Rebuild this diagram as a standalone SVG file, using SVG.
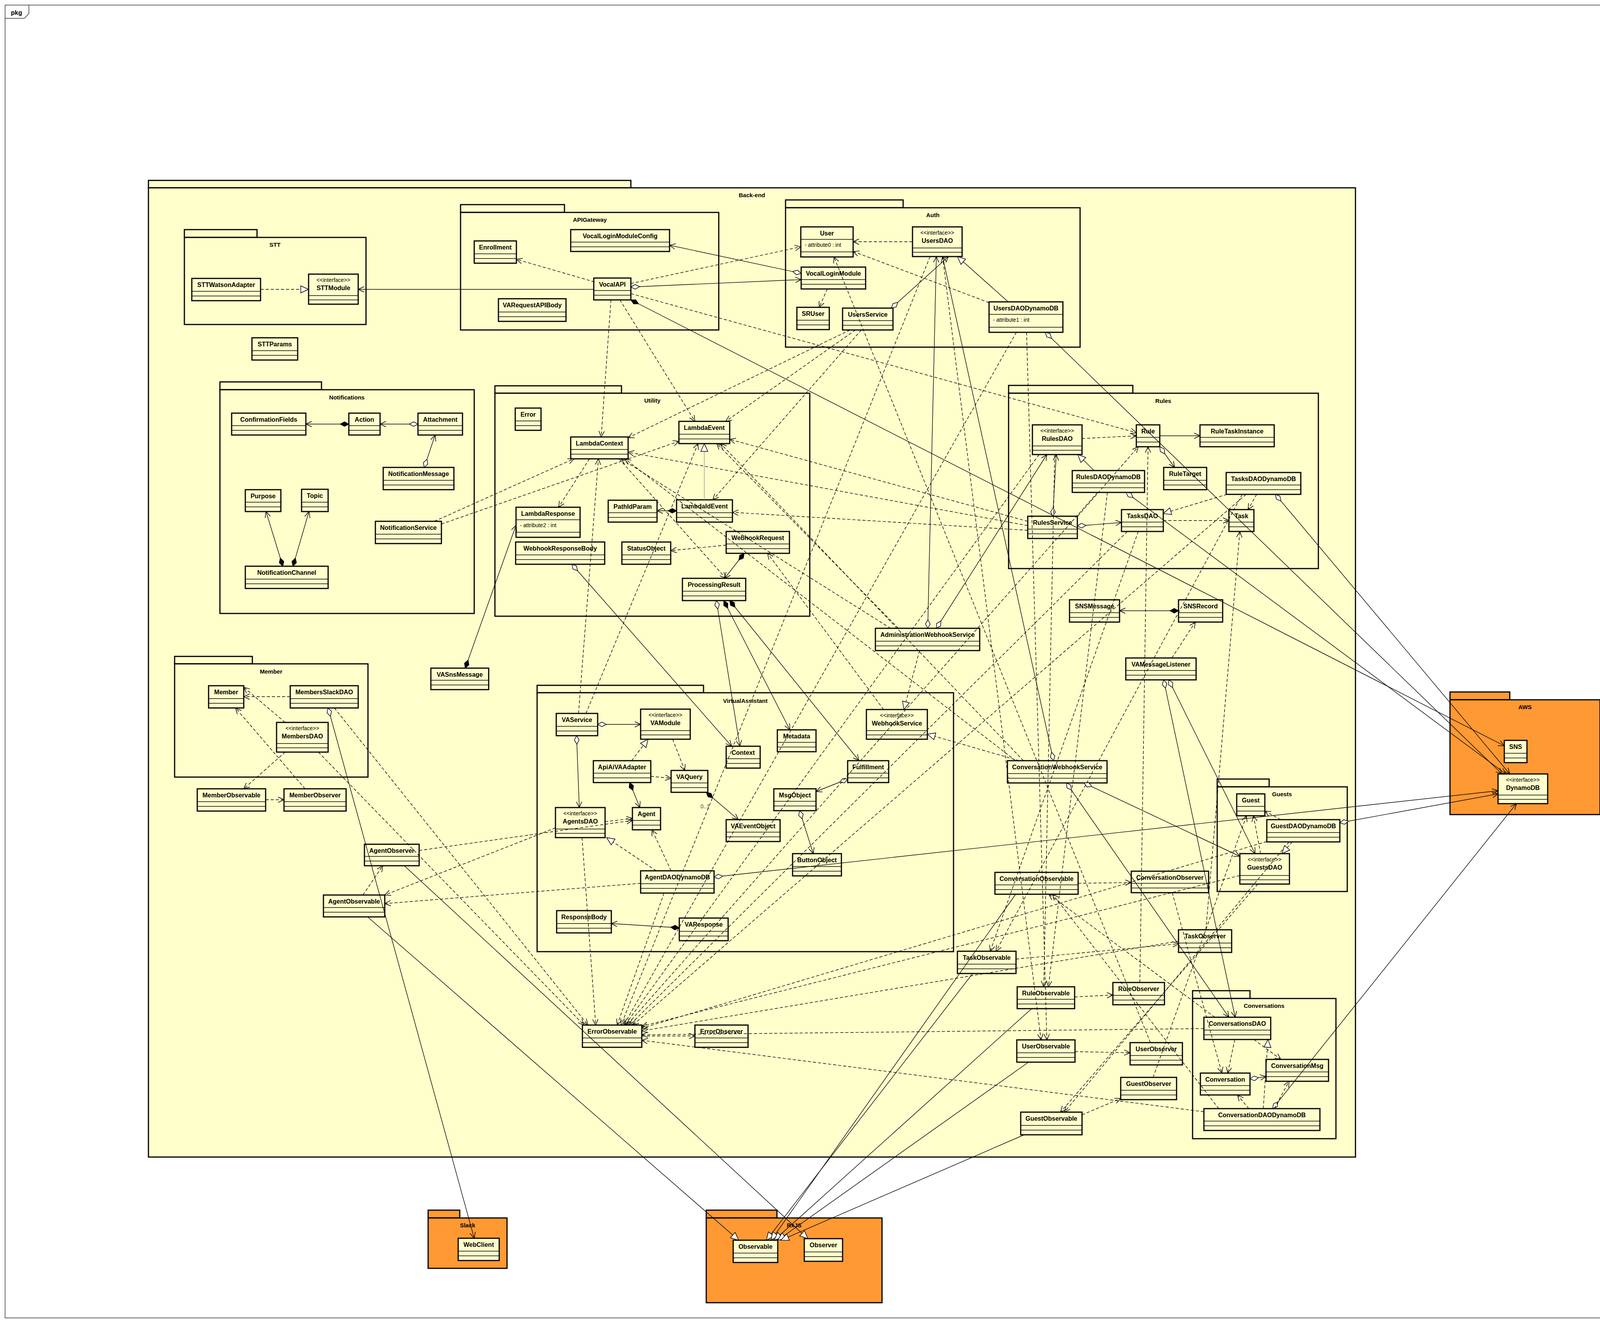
<svg xmlns="http://www.w3.org/2000/svg" width="4264" height="3388" viewBox="0 0 4264 3388">
<style>
text{font-family:"Liberation Sans",Arial,sans-serif;fill:#000}
.n{font-size:16px;font-weight:bold;text-anchor:middle}
.s{font-size:14px;text-anchor:middle}
.at{font-size:14px}
.pl{font-size:15px;font-weight:bold;text-anchor:middle}
.k rect{fill:#FFFFCC;stroke:#000;stroke-width:3}
.k path{fill:none;stroke:#000;stroke-width:1.5}
.p rect{fill:#FFFFCC;stroke:#000;stroke-width:3}
.o rect{fill:#FF9933;stroke:#000;stroke-width:3}
.c path{fill:none;stroke:#000;stroke-width:1.4}
.c .d{stroke-dasharray:8 5}
.c .oa{marker-end:url(#oa)}
.c .tr{marker-end:url(#tr)}
.c .hd{marker-start:url(#hd)}
.c .fd{marker-start:url(#fd)}
</style>
<defs>
<marker id="oa" markerUnits="userSpaceOnUse" markerWidth="20" markerHeight="18" viewBox="-18 -9 20 18" refX="0" refY="0" orient="auto"><path d="M-15,-7 L0,0 L-15,7" fill="none" stroke="#000" stroke-width="1.5"/></marker>
<marker id="tr" markerUnits="userSpaceOnUse" markerWidth="24" markerHeight="22" viewBox="-22 -11 24 22" refX="0" refY="0" orient="auto"><path d="M-20,-9 L0,0 L-20,9 Z" fill="#fff" stroke="#000" stroke-width="1.5"/></marker>
<marker id="hd" markerUnits="userSpaceOnUse" markerWidth="26" markerHeight="16" viewBox="-2 -8 26 16" refX="0" refY="0" orient="auto"><path d="M0,0 L11,-6 L22,0 L11,6 Z" fill="#fff" stroke="#000" stroke-width="1.5"/></marker>
<marker id="fd" markerUnits="userSpaceOnUse" markerWidth="26" markerHeight="16" viewBox="-2 -8 26 16" refX="0" refY="0" orient="auto"><path d="M0,0 L11,-6 L22,0 L11,6 Z" fill="#000" stroke="#000" stroke-width="1.5"/></marker>
</defs>
<rect x="0" y="0" width="4264" height="3388" fill="#fff"/>
<g id="frame-pkg">
<rect x="13" y="13" width="4236" height="3362" fill="none" stroke="#333" stroke-width="1.5"/>
<path d="M13,47 H62 L74,35 V13" fill="none" stroke="#333" stroke-width="1.5"/>
<text x="28" y="38" style="font-size:16px;font-weight:bold">pkg</text>
</g>
<g id="packages">
<g id="pkg-Back-end" class="p"><rect x="380" y="462" width="1235" height="19"/><rect x="380" y="481" width="3090" height="2482"/><text class="pl" x="1925" y="505">Back-end</text></g>
<g id="pkg-STT" class="p"><rect x="472" y="588" width="186" height="20"/><rect x="472" y="608" width="465" height="223"/><text class="pl" x="704" y="632">STT</text></g>
<g id="pkg-APIGateway" class="p"><rect x="1179" y="524" width="266" height="20"/><rect x="1179" y="544" width="661" height="301"/><text class="pl" x="1510" y="568">APIGateway</text></g>
<g id="pkg-Auth" class="p"><rect x="2011" y="512" width="301" height="20"/><rect x="2011" y="532" width="754" height="357"/><text class="pl" x="2388" y="556">Auth</text></g>
<g id="pkg-Notifications" class="p"><rect x="563" y="978" width="260" height="20"/><rect x="563" y="998" width="651" height="573"/><text class="pl" x="888" y="1023">Notifications</text></g>
<g id="pkg-Utility" class="p"><rect x="1267" y="988" width="324" height="19"/><rect x="1267" y="1007" width="806" height="571"/><text class="pl" x="1670" y="1031">Utility</text></g>
<g id="pkg-Rules" class="p"><rect x="2582" y="987" width="318" height="20"/><rect x="2582" y="1007" width="793" height="449"/><text class="pl" x="2978" y="1032">Rules</text></g>
<g id="pkg-Member" class="p"><rect x="447" y="1681" width="199" height="19"/><rect x="447" y="1700" width="495" height="290"/><text class="pl" x="694" y="1725">Member</text></g>
<g id="pkg-VirtualAssistant" class="p"><rect x="1375" y="1755" width="426" height="19"/><rect x="1375" y="1774" width="1066" height="663"/><text class="pl" x="1908" y="1800">VirtualAssistant</text></g>
<g id="pkg-Guests" class="p"><rect x="3116" y="1995" width="133" height="20"/><rect x="3116" y="2015" width="333" height="268"/><text class="pl" x="3282" y="2039">Guests</text></g>
<g id="pkg-Conversations" class="p"><rect x="3053" y="2537" width="147" height="20"/><rect x="3053" y="2557" width="367" height="359"/><text class="pl" x="3236" y="2581">Conversations</text></g>
<g id="pkg-AWS" class="o"><rect x="3712" y="1772" width="153" height="20"/><rect x="3712" y="1792" width="384" height="294"/><text class="pl" x="3904" y="1816">AWS</text></g>
<g id="pkg-Slack" class="o"><rect x="1096" y="3099" width="81" height="20"/><rect x="1096" y="3119" width="202" height="129"/><text class="pl" x="1197" y="3143">Slack</text></g>
<g id="pkg-RxJS" class="o"><rect x="1808" y="3099" width="181" height="20"/><rect x="1808" y="3119" width="450" height="217"/><text class="pl" x="2033" y="3143">RxJS</text></g>
</g>
<g id="nodes">
<g id="STTWatsonAdapter" class="k"><rect x="491" y="713" width="176" height="57"/><text class="n" x="579" y="735">STTWatsonAdapter</text><path d="M491,746h176M491,758h176"/></g>
<g id="STTModule" class="k"><rect x="790" y="702" width="127" height="77"/><text class="s" x="853.5" y="722">&lt;&lt;interface&gt;&gt;</text><text class="n" x="853.5" y="743">STTModule</text><path d="M790,757h127M790,768h127"/></g>
<g id="STTParams" class="k"><rect x="645" y="865" width="117" height="57"/><text class="n" x="703.5" y="887">STTParams</text><path d="M645,898h117M645,910h117"/></g>
<g id="VocalLoginModuleConfig" class="k"><rect x="1461" y="588" width="253" height="56"/><text class="n" x="1587.5" y="610">VocalLoginModuleConfig</text><path d="M1461,620h253M1461,632h253"/></g>
<g id="Enrollment" class="k"><rect x="1214" y="617" width="108" height="57"/><text class="n" x="1268" y="639">Enrollment</text><path d="M1214,650h108M1214,662h108"/></g>
<g id="VocalAPI" class="k"><rect x="1520" y="712" width="95" height="56"/><text class="n" x="1567.5" y="734">VocalAPI</text><path d="M1520,744h95M1520,756h95"/></g>
<g id="VARequestAPIBody" class="k"><rect x="1276" y="765" width="173" height="58"/><text class="n" x="1362.5" y="787">VARequestAPIBody</text><path d="M1276,799h173M1276,811h173"/></g>
<g id="User" class="k"><rect x="2050" y="581" width="134" height="77"/><text class="n" x="2117" y="603">User</text><path d="M2050,613h134M2050,645h134"/><text class="at" x="2060" y="632">- attribute0 : int</text></g>
<g id="UsersDAO" class="k"><rect x="2336" y="581" width="127" height="76"/><text class="s" x="2399.5" y="601">&lt;&lt;interface&gt;&gt;</text><text class="n" x="2399.5" y="622">UsersDAO</text><path d="M2336,635h127M2336,646h127"/></g>
<g id="VocalLoginModule" class="k"><rect x="2051" y="684" width="165" height="56"/><text class="n" x="2133.5" y="706">VocalLoginModule</text><path d="M2051,716h165M2051,728h165"/></g>
<g id="SRUser" class="k"><rect x="2040" y="787" width="83" height="57"/><text class="n" x="2081.5" y="809">SRUser</text><path d="M2040,820h83M2040,832h83"/></g>
<g id="UsersService" class="k"><rect x="2157" y="789" width="129" height="56"/><text class="n" x="2221.5" y="811">UsersService</text><path d="M2157,821h129M2157,833h129"/></g>
<g id="UsersDAODynamoDB" class="k"><rect x="2532" y="773" width="189" height="78"/><text class="n" x="2626.5" y="795">UsersDAODynamoDB</text><path d="M2532,805h189M2532,838h189"/><text class="at" x="2542" y="824">- attribute1 : int</text></g>
<g id="ConfirmationFields" class="k"><rect x="593" y="1058" width="190" height="56"/><text class="n" x="688" y="1080">ConfirmationFields</text><path d="M593,1090h190M593,1102h190"/></g>
<g id="Action" class="k"><rect x="893" y="1058" width="80" height="56"/><text class="n" x="933" y="1080">Action</text><path d="M893,1090h80M893,1102h80"/></g>
<g id="Attachment" class="k"><rect x="1070" y="1058" width="114" height="56"/><text class="n" x="1127" y="1080">Attachment</text><path d="M1070,1090h114M1070,1102h114"/></g>
<g id="NotificationMessage" class="k"><rect x="981" y="1197" width="181" height="57"/><text class="n" x="1071.5" y="1219">NotificationMessage</text><path d="M981,1230h181M981,1242h181"/></g>
<g id="Purpose" class="k"><rect x="628" y="1254" width="91" height="56"/><text class="n" x="673.5" y="1276">Purpose</text><path d="M628,1286h91M628,1298h91"/></g>
<g id="Topic" class="k"><rect x="772" y="1253" width="68" height="57"/><text class="n" x="806" y="1275">Topic</text><path d="M772,1286h68M772,1298h68"/></g>
<g id="NotificationService" class="k"><rect x="961" y="1335" width="169" height="57"/><text class="n" x="1045.5" y="1357">NotificationService</text><path d="M961,1368h169M961,1380h169"/></g>
<g id="NotificationChannel" class="k"><rect x="628" y="1450" width="212" height="57"/><text class="n" x="734" y="1472">NotificationChannel</text><path d="M628,1483h212M628,1495h212"/></g>
<g id="Error" class="k"><rect x="1319" y="1045" width="66" height="57"/><text class="n" x="1352" y="1067">Error</text><path d="M1319,1078h66M1319,1090h66"/></g>
<g id="LambdaContext" class="k"><rect x="1461" y="1119" width="147" height="56"/><text class="n" x="1534.5" y="1141">LambdaContext</text><path d="M1461,1151h147M1461,1163h147"/></g>
<g id="LambdaEvent" class="k"><rect x="1738" y="1079" width="130" height="57"/><text class="n" x="1803" y="1101">LambdaEvent</text><path d="M1738,1112h130M1738,1124h130"/></g>
<g id="LambdaResponse" class="k"><rect x="1321" y="1299" width="164" height="77"/><text class="n" x="1403" y="1321">LambdaResponse</text><path d="M1321,1331h164M1321,1363h164"/><text class="at" x="1331" y="1350">- attribute2 : int</text></g>
<g id="PathIdParam" class="k"><rect x="1557" y="1281" width="125" height="56"/><text class="n" x="1619.5" y="1303">PathIdParam</text><path d="M1557,1313h125M1557,1325h125"/></g>
<g id="LambdaIdEvent" class="k"><rect x="1732" y="1280" width="143" height="57"/><text class="n" x="1803.5" y="1302">LambdaIdEvent</text><path d="M1732,1313h143M1732,1325h143"/></g>
<g id="WebhookResponseBody" class="k"><rect x="1320" y="1388" width="228" height="57"/><text class="n" x="1434" y="1410">WebhookResponseBody</text><path d="M1320,1421h228M1320,1433h228"/></g>
<g id="StatusObject" class="k"><rect x="1592" y="1388" width="125" height="57"/><text class="n" x="1654.5" y="1410">StatusObject</text><path d="M1592,1421h125M1592,1433h125"/></g>
<g id="WebhookRequest" class="k"><rect x="1859" y="1361" width="162" height="56"/><text class="n" x="1940" y="1383">WebhookRequest</text><path d="M1859,1393h162M1859,1405h162"/></g>
<g id="ProcessingResult" class="k"><rect x="1747" y="1481" width="162" height="57"/><text class="n" x="1828" y="1503">ProcessingResult</text><path d="M1747,1514h162M1747,1526h162"/></g>
<g id="RulesDAO" class="k"><rect x="2643" y="1088" width="127" height="76"/><text class="s" x="2706.5" y="1108">&lt;&lt;interface&gt;&gt;</text><text class="n" x="2706.5" y="1129">RulesDAO</text><path d="M2643,1142h127M2643,1153h127"/></g>
<g id="Rule" class="k"><rect x="2909" y="1088" width="60" height="56"/><text class="n" x="2939" y="1110">Rule</text><path d="M2909,1120h60M2909,1132h60"/></g>
<g id="RuleTaskInstance" class="k"><rect x="3072" y="1088" width="190" height="56"/><text class="n" x="3167" y="1110">RuleTaskInstance</text><path d="M3072,1120h190M3072,1132h190"/></g>
<g id="RulesDAODynamoDB" class="k"><rect x="2745" y="1205" width="185" height="56"/><text class="n" x="2837.5" y="1227">RulesDAODynamoDB</text><path d="M2745,1237h185M2745,1249h185"/></g>
<g id="RuleTarget" class="k"><rect x="2979" y="1197" width="110" height="57"/><text class="n" x="3034" y="1219">RuleTarget</text><path d="M2979,1230h110M2979,1242h110"/></g>
<g id="TasksDAODynamoDB" class="k"><rect x="3139" y="1210" width="191" height="56"/><text class="n" x="3234.5" y="1232">TasksDAODynamoDB</text><path d="M3139,1242h191M3139,1254h191"/></g>
<g id="RulesService" class="k"><rect x="2631" y="1322" width="127" height="57"/><text class="n" x="2694.5" y="1344">RulesService</text><path d="M2631,1355h127M2631,1367h127"/></g>
<g id="TasksDAO" class="k"><rect x="2871" y="1305" width="107" height="56"/><text class="n" x="2924.5" y="1327">TasksDAO</text><path d="M2871,1337h107M2871,1349h107"/></g>
<g id="Task" class="k"><rect x="3146" y="1305" width="64" height="56"/><text class="n" x="3178" y="1327">Task</text><path d="M3146,1337h64M3146,1349h64"/></g>
<g id="SNSMessage" class="k"><rect x="2738" y="1536" width="128" height="57"/><text class="n" x="2802" y="1558">SNSMessage</text><path d="M2738,1569h128M2738,1581h128"/></g>
<g id="SNSRecord" class="k"><rect x="3017" y="1536" width="113" height="57"/><text class="n" x="3073.5" y="1558">SNSRecord</text><path d="M3017,1569h113M3017,1581h113"/></g>
<g id="VAMessageListener" class="k"><rect x="2882" y="1685" width="180" height="56"/><text class="n" x="2972" y="1707">VAMessageListener</text><path d="M2882,1717h180M2882,1729h180"/></g>
<g id="AdministrationWebhookService" class="k"><rect x="2241" y="1609" width="267" height="57"/><text class="n" x="2374.5" y="1631">AdministrationWebhookService</text><path d="M2241,1642h267M2241,1654h267"/></g>
<g id="Member" class="k"><rect x="534" y="1756" width="90" height="57"/><text class="n" x="579" y="1778">Member</text><path d="M534,1789h90M534,1801h90"/></g>
<g id="MembersSlackDAO" class="k"><rect x="743" y="1756" width="174" height="57"/><text class="n" x="830" y="1778">MembersSlackDAO</text><path d="M743,1789h174M743,1801h174"/></g>
<g id="MembersDAO" class="k"><rect x="708" y="1850" width="132" height="76"/><text class="s" x="774" y="1870">&lt;&lt;interface&gt;&gt;</text><text class="n" x="774" y="1891">MembersDAO</text><path d="M708,1904h132M708,1915h132"/></g>
<g id="MemberObservable" class="k"><rect x="505" y="2020" width="175" height="57"/><text class="n" x="592.5" y="2042">MemberObservable</text><path d="M505,2053h175M505,2065h175"/></g>
<g id="MemberObserver" class="k"><rect x="727" y="2020" width="159" height="57"/><text class="n" x="806.5" y="2042">MemberObserver</text><path d="M727,2053h159M727,2065h159"/></g>
<g id="VASnsMessage" class="k"><rect x="1103" y="1711" width="148" height="55"/><text class="n" x="1177" y="1733">VASnsMessage</text><path d="M1103,1742h148M1103,1754h148"/></g>
<g id="AgentObserver" class="k"><rect x="933" y="2162" width="140" height="55"/><text class="n" x="1003" y="2184">AgentObserver</text><path d="M933,2193h140M933,2205h140"/></g>
<g id="AgentObservable" class="k"><rect x="828" y="2292" width="157" height="56"/><text class="n" x="906.5" y="2314">AgentObservable</text><path d="M828,2324h157M828,2336h157"/></g>
<g id="VAService" class="k"><rect x="1424" y="1827" width="106" height="57"/><text class="n" x="1477" y="1849">VAService</text><path d="M1424,1860h106M1424,1872h106"/></g>
<g id="VAModule" class="k"><rect x="1640" y="1816" width="127" height="77"/><text class="s" x="1703.5" y="1836">&lt;&lt;interface&gt;&gt;</text><text class="n" x="1703.5" y="1857">VAModule</text><path d="M1640,1871h127M1640,1882h127"/></g>
<g id="Context" class="k"><rect x="1859" y="1911" width="87" height="56"/><text class="n" x="1902.5" y="1933">Context</text><path d="M1859,1943h87M1859,1955h87"/></g>
<g id="Metadata" class="k"><rect x="1990" y="1869" width="99" height="56"/><text class="n" x="2039.5" y="1891">Metadata</text><path d="M1990,1901h99M1990,1913h99"/></g>
<g id="WebhookService" class="k"><rect x="2218" y="1817" width="156" height="76"/><text class="s" x="2296" y="1837">&lt;&lt;interface&gt;&gt;</text><text class="n" x="2296" y="1858">WebhookService</text><path d="M2218,1871h156M2218,1882h156"/></g>
<g id="ApiAiVAAdapter" class="k"><rect x="1519" y="1948" width="147" height="56"/><text class="n" x="1592.5" y="1970">ApiAiVAAdapter</text><path d="M1519,1980h147M1519,1992h147"/></g>
<g id="VAQuery" class="k"><rect x="1718" y="1973" width="94" height="56"/><text class="n" x="1765" y="1995">VAQuery</text><path d="M1718,2005h94M1718,2017h94"/></g>
<g id="Fulfillment" class="k"><rect x="2170" y="1948" width="105" height="56"/><text class="n" x="2222.5" y="1970">Fulfillment</text><path d="M2170,1980h105M2170,1992h105"/></g>
<g id="MsgObject" class="k"><rect x="1981" y="2020" width="108" height="56"/><text class="n" x="2035" y="2042">MsgObject</text><path d="M1981,2052h108M1981,2064h108"/></g>
<g id="AgentsDAO" class="k"><rect x="1422" y="2068" width="127" height="77"/><text class="s" x="1485.5" y="2088">&lt;&lt;interface&gt;&gt;</text><text class="n" x="1485.5" y="2109">AgentsDAO</text><path d="M1422,2123h127M1422,2134h127"/></g>
<g id="Agent" class="k"><rect x="1619" y="2068" width="72" height="57"/><text class="n" x="1655" y="2090">Agent</text><path d="M1619,2101h72M1619,2113h72"/></g>
<g id="VAEventObject" class="k"><rect x="1859" y="2099" width="138" height="56"/><text class="n" x="1928" y="2121">VAEventObject</text><path d="M1859,2131h138M1859,2143h138"/></g>
<g id="ButtonObject" class="k"><rect x="2029" y="2186" width="125" height="57"/><text class="n" x="2091.5" y="2208">ButtonObject</text><path d="M2029,2219h125M2029,2231h125"/></g>
<g id="AgentDAODynamoDB" class="k"><rect x="1640" y="2230" width="188" height="57"/><text class="n" x="1734" y="2252">AgentDAODynamoDB</text><path d="M1640,2263h188M1640,2275h188"/></g>
<g id="ResponseBody" class="k"><rect x="1425" y="2332" width="140" height="57"/><text class="n" x="1495" y="2354">ResponseBody</text><path d="M1425,2365h140M1425,2377h140"/></g>
<g id="VAResponse" class="k"><rect x="1739" y="2351" width="125" height="58"/><text class="n" x="1801.5" y="2373">VAResponse</text><path d="M1739,2385h125M1739,2397h125"/></g>
<g id="ConversationWebhookService" class="k"><rect x="2579" y="1948" width="255" height="57"/><text class="n" x="2706.5" y="1970">ConversationWebhookService</text><path d="M2579,1981h255M2579,1993h255"/></g>
<g id="ConversationObservable" class="k"><rect x="2547" y="2234" width="213" height="56"/><text class="n" x="2653.5" y="2256">ConversationObservable</text><path d="M2547,2266h213M2547,2278h213"/></g>
<g id="ConversationObserver" class="k"><rect x="2896" y="2231" width="198" height="55"/><text class="n" x="2995" y="2253">ConversationObserver</text><path d="M2896,2262h198M2896,2274h198"/></g>
<g id="Guest" class="k"><rect x="3166" y="2033" width="72" height="56"/><text class="n" x="3202" y="2055">Guest</text><path d="M3166,2065h72M3166,2077h72"/></g>
<g id="GuestDAODynamoDB" class="k"><rect x="3243" y="2099" width="187" height="57"/><text class="n" x="3336.5" y="2121">GuestDAODynamoDB</text><path d="M3243,2132h187M3243,2144h187"/></g>
<g id="GuestsDAO" class="k"><rect x="3174" y="2186" width="127" height="78"/><text class="s" x="3237.5" y="2206">&lt;&lt;interface&gt;&gt;</text><text class="n" x="3237.5" y="2227">GuestsDAO</text><path d="M3174,2242h127M3174,2253h127"/></g>
<g id="TaskObservable" class="k"><rect x="2451" y="2436" width="150" height="57"/><text class="n" x="2526" y="2458">TaskObservable</text><path d="M2451,2469h150M2451,2481h150"/></g>
<g id="TaskObserver" class="k"><rect x="3017" y="2381" width="136" height="58"/><text class="n" x="3085" y="2403">TaskObserver</text><path d="M3017,2415h136M3017,2427h136"/></g>
<g id="RuleObservable" class="k"><rect x="2604" y="2527" width="147" height="56"/><text class="n" x="2677.5" y="2549">RuleObservable</text><path d="M2604,2559h147M2604,2571h147"/></g>
<g id="RuleObserver" class="k"><rect x="2849" y="2516" width="132" height="57"/><text class="n" x="2915" y="2538">RuleObserver</text><path d="M2849,2549h132M2849,2561h132"/></g>
<g id="UserObservable" class="k"><rect x="2603" y="2663" width="149" height="57"/><text class="n" x="2677.5" y="2685">UserObservable</text><path d="M2603,2696h149M2603,2708h149"/></g>
<g id="UserObserver" class="k"><rect x="2893" y="2670" width="134" height="57"/><text class="n" x="2960" y="2692">UserObserver</text><path d="M2893,2703h134M2893,2715h134"/></g>
<g id="GuestObserver" class="k"><rect x="2869" y="2759" width="143" height="57"/><text class="n" x="2940.5" y="2781">GuestObserver</text><path d="M2869,2792h143M2869,2804h143"/></g>
<g id="GuestObservable" class="k"><rect x="2613" y="2848" width="157" height="58"/><text class="n" x="2691.5" y="2870">GuestObservable</text><path d="M2613,2882h157M2613,2894h157"/></g>
<g id="ErrorObservable" class="k"><rect x="1491" y="2625" width="152" height="57"/><text class="n" x="1567" y="2647">ErrorObservable</text><path d="M1491,2658h152M1491,2670h152"/></g>
<g id="ErrorObserver" class="k"><rect x="1779" y="2625" width="136" height="57"/><text class="n" x="1847" y="2647">ErrorObserver</text><path d="M1779,2658h136M1779,2670h136"/></g>
<g id="ConversationsDAO" class="k"><rect x="3082" y="2605" width="171" height="57"/><text class="n" x="3167.5" y="2627">ConversationsDAO</text><path d="M3082,2638h171M3082,2650h171"/></g>
<g id="ConversationMsg" class="k"><rect x="3241" y="2713" width="160" height="56"/><text class="n" x="3321" y="2735">ConversationMsg</text><path d="M3241,2745h160M3241,2757h160"/></g>
<g id="Conversation" class="k"><rect x="3073" y="2748" width="127" height="56"/><text class="n" x="3136.5" y="2770">Conversation</text><path d="M3073,2780h127M3073,2792h127"/></g>
<g id="ConversationDAODynamoDB" class="k"><rect x="3082" y="2839" width="297" height="56"/><text class="n" x="3230.5" y="2861">ConversationDAODynamoDB</text><path d="M3082,2871h297M3082,2883h297"/></g>
<g id="SNS" class="k"><rect x="3851" y="1896" width="58" height="57"/><text class="n" x="3880" y="1918">SNS</text><path d="M3851,1929h58M3851,1941h58"/></g>
<g id="DynamoDB" class="k"><rect x="3835" y="1982" width="127" height="76"/><text class="s" x="3898.5" y="2002">&lt;&lt;interface&gt;&gt;</text><text class="n" x="3898.5" y="2023">DynamoDB</text><path d="M3835,2036h127M3835,2047h127"/></g>
<g id="WebClient" class="k"><rect x="1173" y="3171" width="105" height="57"/><text class="n" x="1225.5" y="3193">WebClient</text><path d="M1173,3204h105M1173,3216h105"/></g>
<g id="Observable" class="k"><rect x="1877" y="3176" width="114" height="57"/><text class="n" x="1934" y="3198">Observable</text><path d="M1877,3209h114M1877,3221h114"/></g>
<g id="Observer" class="k"><rect x="2059" y="3172" width="98" height="58"/><text class="n" x="2108" y="3194">Observer</text><path d="M2059,3206h98M2059,3218h98"/></g>
</g>
<g id="connectors" class="c">
<path class="d tr" d="M667,741 L790,741"/>
<path class="oa" d="M1520,741 L917,741"/>
<path class="d oa" d="M1522,722 L1322,664"/>
<path class="hd oa" d="M2051,700 L1714,628"/>
<path class="hd oa" d="M1615,735 L2051,716"/>
<path class="d oa" d="M1615,726 L2050,632"/>
<path class="d oa" d="M1564,768 L1539,1119"/>
<path class="d oa" d="M1587,768 L1779,1079"/>
<path class="fd oa" d="M1615,768 L3851,1910"/>
<path class="d oa" d="M1615,752 L2909,1108"/>
<path class="d oa" d="M2336,619 L2184,619"/>
<path class="d oa" d="M2118,740 L2097,787"/>
<path class="hd oa" d="M2282,789 L2428,657"/>
<path class="tr" d="M2581,773 L2451,657"/>
<path class="d oa" d="M2532,775 L2184,644"/>
<path class="d oa" d="M2176,845 L1608,1121"/>
<path class="d oa" d="M2190,845 L1858,1079"/>
<path class="d oa" d="M2205,845 L1825,1280"/>
<path class="fd oa" d="M893,1086 L783,1086"/>
<path class="hd oa" d="M1070,1086 L973,1086"/>
<path class="hd oa" d="M1086,1197 L1114,1114"/>
<path class="fd oa" d="M724,1450 L681,1310"/>
<path class="fd oa" d="M750,1450 L791,1310"/>
<path class="d oa" d="M1112,1335 L1469,1175"/>
<path class="d oa" d="M1130,1342 L1738,1130"/>
<path class="d oa" d="M1509,1175 L1430,1299"/>
<path class="tr" style="stroke:#999" d="M1803,1280 L1803,1136"/>
<path class="fd oa" d="M1732,1308 L1682,1308"/>
<path class="d oa" d="M1859,1396 L1717,1410"/>
<path class="fd oa" d="M1905,1417 L1855,1481"/>
<path class="hd oa" d="M1834,1538 L1894,1911"/>
<path class="hd oa" d="M1464,1445 L1873,1911"/>
<path class="fd oa" d="M1853,1538 L2022,1869"/>
<path class="fd oa" d="M1868,1538 L2199,1948"/>
<path class="fd oa" d="M1191,1711 L1321,1345"/>
<path class="d oa" d="M1585,1175 L1858,1481"/>
<path class="d oa" d="M1481,1827 L1532,1175"/>
<path class="d oa" d="M1500,1827 L1787,1136"/>
<path class="hd oa" d="M2375,1609 L2397,657"/>
<path class="hd oa" d="M2397,1609 L2680,1164"/>
<path class="hd oa" d="M2697,1948 L2413,657"/>
<path class="d tr" d="M2354,1666 L2314,1817"/>
<path class="d tr" d="M2609,1948 L2374,1880"/>
<path class="d oa" d="M2280,1609 L1590,1175"/>
<path class="d oa" d="M2300,1609 L1835,1136"/>
<path class="d oa" d="M2600,1948 L1600,1175"/>
<path class="d oa" d="M2620,1948 L1845,1136"/>
<path class="d oa" d="M2262,1817 L1965,1417"/>
<path class="hd oa" d="M2730,2005 L3146,2605"/>
<path class="hd oa" d="M2775,2005 L3174,2193"/>
<path class="d oa" d="M2770,1123 L2909,1116"/>
<path class="oa" d="M2969,1116 L3072,1116"/>
<path class="hd oa" d="M2969,1144 L3007,1197"/>
<path class="tr" d="M2801,1205 L2759,1164"/>
<path class="hd oa" d="M2695,1322 L2704,1164"/>
<path class="hd oa" d="M2758,1347 L2871,1338"/>
<path class="d tr" d="M3141,1266 L2978,1315"/>
<path class="d oa" d="M2978,1333 L3146,1333"/>
<path class="d oa" d="M3217,1266 L3195,1305"/>
<path class="d oa" d="M2759,1322 L2914,1144"/>
<path class="d oa" d="M2918,2516 L2939,1144"/>
<path class="d oa" d="M3087,2381 L3174,1361"/>
<path class="d oa" d="M2631,1346 L1608,1158"/>
<path class="d oa" d="M2631,1335 L1868,1125"/>
<path class="d oa" d="M2631,1358 L1875,1312"/>
<path class="hd oa" d="M2676,851 L3845,1982"/>
<path class="hd oa" d="M2883,1261 L3855,1982"/>
<path class="hd oa" d="M3265,1266 L3865,1982"/>
<path class="hd oa" d="M1828,2246 L3835,2025"/>
<path class="hd oa" d="M3430,2107 L3835,2033"/>
<path class="hd oa" d="M3258,2839 L3882,2058"/>
<path class="fd oa" d="M3017,1564 L2866,1564"/>
<path class="hd oa" d="M2979,1741 L3162,2605"/>
<path class="hd oa" d="M2992,1741 L3213,2186"/>
<path class="d oa" d="M3000,1685 L3060,1593"/>
<path class="d oa" d="M743,1784 L624,1784"/>
<path class="d oa" d="M730,1850 L624,1760"/>
<path class="d oa" d="M730,1926 L624,2020"/>
<path class="d oa" d="M680,2048 L727,2048"/>
<path class="d oa" d="M781,2020 L603,1813"/>
<path class="hd oa" d="M840,1813 L1214,3171"/>
<path class="d oa" d="M856,1813 L1505,2625"/>
<path class="d oa" d="M815,1926 L1495,2625"/>
<path class="d oa" d="M929,2292 L980,2217"/>
<path class="d oa" d="M1073,2178 L1619,2101"/>
<path class="d oa" d="M1422,2120 L985,2292"/>
<path class="d oa" d="M1640,2262 L985,2314"/>
<path class="tr" d="M941,2348 L1891,3176"/>
<path class="tr" d="M1035,2217 L2068,3172"/>
<path class="hd oa" d="M1530,1855 L1640,1855"/>
<path class="hd oa" d="M1476,1884 L1483,2068"/>
<path class="d tr" d="M1617,1948 L1659,1893"/>
<path class="d oa" d="M1722,1893 L1753,1973"/>
<path class="d oa" d="M1666,1988 L1718,1993"/>
<path class="fd oa" d="M1612,2004 L1638,2068"/>
<path class="fd oa" d="M1808,2029 L1890,2099"/>
<path class="hd oa" d="M2170,1995 L2089,2027"/>
<path class="hd oa" d="M2047,2076 L2082,2186"/>
<path class="fd oa" d="M1739,2376 L1565,2365"/>
<path class="d oa" d="M1549,2104 L1619,2096"/>
<path class="d tr" d="M1680,2230 L1553,2145"/>
<path class="d oa" d="M1718,2230 L1669,2125"/>
<path class="d oa" d="M1490,2145 L1525,2625"/>
<path class="d oa" d="M1700,2287 L1580,2625"/>
<path class="d oa" d="M1643,2653 L1779,2653"/>
<path class="d oa" d="M3082,2634 L1643,2650"/>
<path class="d oa" d="M3082,2847 L1643,2664"/>
<path class="d oa" d="M3174,2242 L1643,2628"/>
<path class="d oa" d="M3243,2155 L1643,2633"/>
<path class="d oa" d="M3017,2410 L1643,2640"/>
<path class="d oa" d="M2381,657 L1590,2625"/>
<path class="d oa" d="M2602,851 L1597,2625"/>
<path class="d oa" d="M2810,1261 L1605,2625"/>
<path class="d oa" d="M2886,1361 L1612,2625"/>
<path class="d oa" d="M3190,1266 L1620,2625"/>
<path class="d oa" d="M2660,1164 L1600,2625"/>
<path class="d oa" d="M2413,657 L2665,2663"/>
<path class="d oa" d="M2628,851 L2680,2663"/>
<path class="d oa" d="M2700,1164 L2672,2527"/>
<path class="d oa" d="M2835,1261 L2684,2527"/>
<path class="d oa" d="M2914,1361 L2535,2436"/>
<path class="d oa" d="M3180,1266 L2550,2436"/>
<path class="d oa" d="M3220,2264 L2715,2848"/>
<path class="d oa" d="M3300,2156 L2725,2848"/>
<path class="d oa" d="M3110,2605 L2685,2290"/>
<path class="d oa" d="M3120,2839 L2695,2290"/>
<path class="d oa" d="M2760,2262 L2896,2260"/>
<path class="d oa" d="M2601,2456 L3017,2417"/>
<path class="d oa" d="M2751,2553 L2849,2548"/>
<path class="d oa" d="M2752,2693 L2893,2696"/>
<path class="d oa" d="M2770,2855 L2869,2813"/>
<path class="d oa" d="M2945,2670 L2135,658"/>
<path class="d oa" d="M2952,2759 L3191,2089"/>
<path class="d oa" d="M3001,2286 L3128,2748"/>
<path class="tr" d="M2490,2493 L1962,3176"/>
<path class="tr" d="M2600,2290 L1974,3176"/>
<path class="tr" d="M2641,2583 L1982,3176"/>
<path class="tr" d="M2633,2720 L1991,3176"/>
<path class="tr" d="M2622,2906 L1999,3176"/>
<path class="d oa" d="M3279,2099 L3238,2077"/>
<path class="d tr" d="M3308,2156 L3282,2186"/>
<path class="d oa" d="M3227,2186 L3209,2089"/>
<path class="d oa" d="M3161,2662 L3143,2748"/>
<path class="d oa" d="M3210,2662 L3279,2713"/>
<path class="d tr" d="M3234,2839 L3246,2662"/>
<path class="hd oa" d="M3200,2763 L3241,2757"/>
<path class="d oa" d="M3197,2839 L3168,2804"/>
<path class="d oa" d="M3262,2839 L3300,2769"/>
<text x="1805" y="2070" style="font-size:14px;fill:#444;text-anchor:middle">0..1</text>
</g>
</svg>
